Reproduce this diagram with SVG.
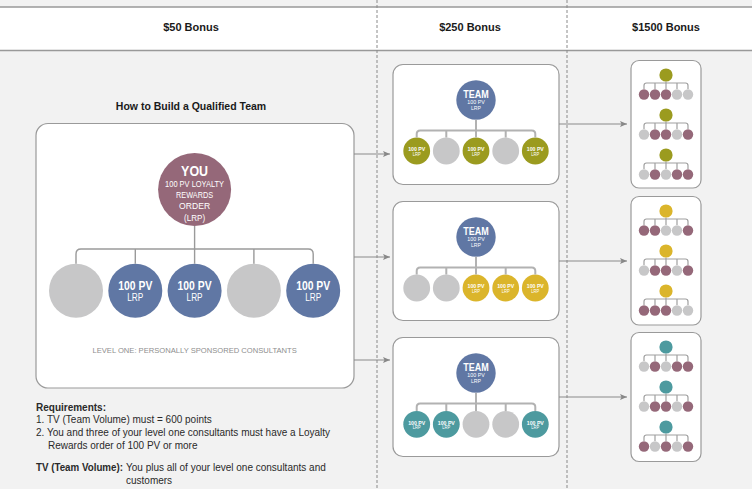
<svg xmlns="http://www.w3.org/2000/svg" width="752" height="489" viewBox="0 0 752 489">
<defs>
<marker id="arr" markerWidth="8" markerHeight="6" refX="7" refY="3" orient="auto" markerUnits="userSpaceOnUse"><path d="M0,0 L7,3 L0,6 L1.5,3 Z" fill="#888"/></marker>
<path id="mini" fill="none" stroke="#a0a0a0" stroke-width="1.2" d="M0,6.5 V14 M-22,14 V10.5 Q-22,8 -19.5,8 H19.5 Q22,8 22,10.5 V14 M-11,8 V14 M11,8 V14"/>
</defs>
<style>
.hdr{font-family:"Liberation Sans",Arial,sans-serif;font-weight:bold;font-size:11px;fill:#1a1a1a;text-anchor:middle}
.box{fill:#fff;stroke:#9a9a9a;stroke-width:1.2}
.dash{stroke:#8a8a8a;stroke-width:1;stroke-dasharray:3 2}
.conn{fill:none;stroke:#9a9a9a;stroke-width:1.4}
.conn2{fill:none;stroke:#b2b2b2;stroke-width:2}
.arrow{stroke:#8a8a8a;stroke-width:1;fill:none;marker-end:url(#arr)}
.n{font-family:"Liberation Sans",Arial,sans-serif;fill:#fff;text-anchor:middle}
.b{font-weight:bold}
.g{fill:#c7c7c8}.bl{fill:#6077a4}.m{fill:#956879}.o{fill:#9b9b1f}.y{fill:#dbb52b}.t{fill:#4d9a9f}
.title{font-family:"Liberation Sans",Arial,sans-serif;font-weight:bold;font-size:10.5px;fill:#1a1a1a;text-anchor:middle}
.req{font-family:"Liberation Sans",Arial,sans-serif;font-size:10px;fill:#2a2a2a}
.lvl{font-family:"Liberation Sans",Arial,sans-serif;font-size:7.6px;fill:#8e8e8e;text-anchor:middle}
</style>
<rect x="0" y="0" width="752" height="489" fill="#f2f2f2"/>
<g id="header">
<rect x="0" y="7" width="752" height="43" fill="#fff"/>
<line x1="0" y1="7" x2="752" y2="7" stroke="#999" stroke-width="1.5"/>
<line x1="0" y1="50.5" x2="752" y2="50.5" stroke="#999" stroke-width="1.5"/>
<text class="hdr" x="191" y="31">$50 Bonus</text>
<text class="hdr" x="470" y="31">$250 Bonus</text>
<text class="hdr" x="666" y="31">$1500 Bonus</text>
</g>
<g id="dividers">
<line class="dash" x1="377" y1="0" x2="377" y2="489"/>
<line class="dash" x1="567" y1="0" x2="567" y2="489"/>
</g>
<text class="title" x="191" y="110">How to Build a Qualified Team</text>
<g id="qualified-team">
<rect class="box" x="36" y="123.5" width="318" height="264.5" rx="12"/>
<text class="lvl" x="194.6" y="352.5">LEVEL ONE: PERSONALLY SPONSORED CONSULTANTS</text>
</g>
<g id="you">
<circle class="m" cx="194.6" cy="189.5" r="36.5"/>
<text class="n b" x="194.6" y="175.5" font-size="14" textLength="27" lengthAdjust="spacingAndGlyphs">YOU</text>
<text class="n" x="194.6" y="187" font-size="9.5" textLength="59" lengthAdjust="spacingAndGlyphs">100 PV LOYALTY</text>
<text class="n" x="194.6" y="198.3" font-size="9.5" textLength="37" lengthAdjust="spacingAndGlyphs">REWARDS</text>
<text class="n" x="194.6" y="209.3" font-size="9.5" textLength="31" lengthAdjust="spacingAndGlyphs">ORDER</text>
<text class="n" x="194.6" y="220.5" font-size="9.5" textLength="21" lengthAdjust="spacingAndGlyphs">(LRP)</text>
</g>
<g id="level-one">
<circle class="g" cx="76" cy="290.7" r="27"/>
<g id="l1-2"><circle class="bl" cx="135.3" cy="290.7" r="27"/><text class="n b" x="135.3" y="290" font-size="13" textLength="34" lengthAdjust="spacingAndGlyphs">100 PV</text><text class="n" x="135.3" y="301" font-size="10" textLength="16" lengthAdjust="spacingAndGlyphs">LRP</text></g>
<g id="l1-3"><circle class="bl" cx="194.6" cy="290.7" r="27"/><text class="n b" x="194.6" y="290" font-size="13" textLength="34" lengthAdjust="spacingAndGlyphs">100 PV</text><text class="n" x="194.6" y="301" font-size="10" textLength="16" lengthAdjust="spacingAndGlyphs">LRP</text></g>
<circle class="g" cx="253.9" cy="290.7" r="27"/>
<g id="l1-5"><circle class="bl" cx="313.2" cy="290.7" r="27"/><text class="n b" x="313.2" y="290" font-size="13" textLength="34" lengthAdjust="spacingAndGlyphs">100 PV</text><text class="n" x="313.2" y="301" font-size="10" textLength="16" lengthAdjust="spacingAndGlyphs">LRP</text></g>
</g>
<g id="requirements">
<text class="req b" x="36" y="410.5">Requirements:</text>
<text class="req" x="36" y="423">1. TV (Team Volume) must = 600 points</text>
<text class="req" x="36" y="436">2. You and three of your level one consultants must have a Loyalty</text>
<text class="req" x="48" y="449">Rewards order of 100 PV or more</text>
<text class="req b" x="36" y="471" textLength="87" lengthAdjust="spacingAndGlyphs">TV (Team Volume):</text>
<text class="req" x="126" y="471">You plus all of your level one consultants and</text>
<text class="req" x="126" y="483.5">customers</text>
</g>
<g id="team-1">
<rect class="box" x="393" y="64.5" width="166" height="120" rx="10"/>
<circle class="bl" cx="476" cy="100" r="19.7"/>
<text class="n b" x="476" y="97.5" font-size="11" textLength="25.5" lengthAdjust="spacingAndGlyphs">TEAM</text>
<text class="n" x="476" y="104.3" font-size="6" textLength="17.5" lengthAdjust="spacingAndGlyphs">100 PV</text>
<text class="n" x="476" y="110" font-size="6" textLength="10" lengthAdjust="spacingAndGlyphs">LRP</text>
<circle class="o" cx="416.7" cy="151" r="13.4"/><text class="n b" x="416.7" y="151.2" font-size="5.5" textLength="17" lengthAdjust="spacingAndGlyphs">100 PV</text><text class="n" x="416.7" y="156" font-size="5.5" textLength="8" lengthAdjust="spacingAndGlyphs">LRP</text>
<circle class="g" cx="446.3" cy="151" r="13.4"/>
<circle class="o" cx="476" cy="151" r="13.4"/><text class="n b" x="476" y="151.2" font-size="5.5" textLength="17" lengthAdjust="spacingAndGlyphs">100 PV</text><text class="n" x="476" y="156" font-size="5.5" textLength="8" lengthAdjust="spacingAndGlyphs">LRP</text>
<circle class="g" cx="505.7" cy="151" r="13.4"/>
<circle class="o" cx="535.3" cy="151" r="13.4"/><text class="n b" x="535.3" y="151.2" font-size="5.5" textLength="17" lengthAdjust="spacingAndGlyphs">100 PV</text><text class="n" x="535.3" y="156" font-size="5.5" textLength="8" lengthAdjust="spacingAndGlyphs">LRP</text>
</g>
<g id="team-2">
<rect class="box" x="393" y="201.5" width="166" height="119" rx="10"/>
<circle class="bl" cx="476" cy="237" r="19.7"/>
<text class="n b" x="476" y="234.5" font-size="11" textLength="25.5" lengthAdjust="spacingAndGlyphs">TEAM</text>
<text class="n" x="476" y="241.3" font-size="6" textLength="17.5" lengthAdjust="spacingAndGlyphs">100 PV</text>
<text class="n" x="476" y="247" font-size="6" textLength="10" lengthAdjust="spacingAndGlyphs">LRP</text>
<circle class="g" cx="416.7" cy="288" r="13.4"/>
<circle class="g" cx="446.3" cy="288" r="13.4"/>
<circle class="y" cx="476" cy="288" r="13.4"/><text class="n b" x="476" y="288.2" font-size="5.5" textLength="17" lengthAdjust="spacingAndGlyphs">100 PV</text><text class="n" x="476" y="293" font-size="5.5" textLength="8" lengthAdjust="spacingAndGlyphs">LRP</text>
<circle class="y" cx="505.7" cy="288" r="13.4"/><text class="n b" x="505.7" y="288.2" font-size="5.5" textLength="17" lengthAdjust="spacingAndGlyphs">100 PV</text><text class="n" x="505.7" y="293" font-size="5.5" textLength="8" lengthAdjust="spacingAndGlyphs">LRP</text>
<circle class="y" cx="535.3" cy="288" r="13.4"/><text class="n b" x="535.3" y="288.2" font-size="5.5" textLength="17" lengthAdjust="spacingAndGlyphs">100 PV</text><text class="n" x="535.3" y="293" font-size="5.5" textLength="8" lengthAdjust="spacingAndGlyphs">LRP</text>
</g>
<g id="team-3">
<rect class="box" x="393" y="337.5" width="166" height="119" rx="10"/>
<circle class="bl" cx="476" cy="373" r="19.7"/>
<text class="n b" x="476" y="370.5" font-size="11" textLength="25.5" lengthAdjust="spacingAndGlyphs">TEAM</text>
<text class="n" x="476" y="377.3" font-size="6" textLength="17.5" lengthAdjust="spacingAndGlyphs">100 PV</text>
<text class="n" x="476" y="383" font-size="6" textLength="10" lengthAdjust="spacingAndGlyphs">LRP</text>
<circle class="t" cx="416.7" cy="424.3" r="13.4"/><text class="n b" x="416.7" y="424.5" font-size="5.5" textLength="17" lengthAdjust="spacingAndGlyphs">100 PV</text><text class="n" x="416.7" y="429.3" font-size="5.5" textLength="8" lengthAdjust="spacingAndGlyphs">LRP</text>
<circle class="t" cx="446.3" cy="424.3" r="13.4"/><text class="n b" x="446.3" y="424.5" font-size="5.5" textLength="17" lengthAdjust="spacingAndGlyphs">100 PV</text><text class="n" x="446.3" y="429.3" font-size="5.5" textLength="8" lengthAdjust="spacingAndGlyphs">LRP</text>
<circle class="g" cx="476" cy="424.3" r="13.4"/>
<circle class="g" cx="505.7" cy="424.3" r="13.4"/>
<circle class="t" cx="535.3" cy="424.3" r="13.4"/><text class="n b" x="535.3" y="424.5" font-size="5.5" textLength="17" lengthAdjust="spacingAndGlyphs">100 PV</text><text class="n" x="535.3" y="429.3" font-size="5.5" textLength="8" lengthAdjust="spacingAndGlyphs">LRP</text>
</g>
<g id="bonus-1">
<rect class="box" x="631" y="60.5" width="70" height="127.5" rx="8"/>
<use href="#mini" x="666" y="75"/><circle class="o" cx="666" cy="75" r="6.6"/>
<circle class="m" cx="644" cy="94.5" r="5.2"/><circle class="m" cx="655" cy="94.5" r="5.2"/><circle class="m" cx="666" cy="94.5" r="5.2"/><circle class="g" cx="677" cy="94.5" r="5.2"/><circle class="g" cx="688" cy="94.5" r="5.2"/>
<use href="#mini" x="666" y="115"/><circle class="o" cx="666" cy="115" r="6.6"/>
<circle class="g" cx="644" cy="134.5" r="5.2"/><circle class="m" cx="655" cy="134.5" r="5.2"/><circle class="m" cx="666" cy="134.5" r="5.2"/><circle class="g" cx="677" cy="134.5" r="5.2"/><circle class="m" cx="688" cy="134.5" r="5.2"/>
<use href="#mini" x="666" y="155"/><circle class="o" cx="666" cy="155" r="6.6"/>
<circle class="g" cx="644" cy="174.5" r="5.2"/><circle class="m" cx="655" cy="174.5" r="5.2"/><circle class="g" cx="666" cy="174.5" r="5.2"/><circle class="m" cx="677" cy="174.5" r="5.2"/><circle class="m" cx="688" cy="174.5" r="5.2"/>
</g>
<g id="bonus-2">
<rect class="box" x="631" y="196.5" width="70" height="128.5" rx="8"/>
<use href="#mini" x="666" y="211"/><circle class="y" cx="666" cy="211" r="6.6"/>
<circle class="m" cx="644" cy="230.5" r="5.2"/><circle class="m" cx="655" cy="230.5" r="5.2"/><circle class="g" cx="666" cy="230.5" r="5.2"/><circle class="g" cx="677" cy="230.5" r="5.2"/><circle class="m" cx="688" cy="230.5" r="5.2"/>
<use href="#mini" x="666" y="251"/><circle class="y" cx="666" cy="251" r="6.6"/>
<circle class="g" cx="644" cy="270.5" r="5.2"/><circle class="m" cx="655" cy="270.5" r="5.2"/><circle class="m" cx="666" cy="270.5" r="5.2"/><circle class="g" cx="677" cy="270.5" r="5.2"/><circle class="m" cx="688" cy="270.5" r="5.2"/>
<use href="#mini" x="666" y="291"/><circle class="y" cx="666" cy="291" r="6.6"/>
<circle class="m" cx="644" cy="310.5" r="5.2"/><circle class="m" cx="655" cy="310.5" r="5.2"/><circle class="m" cx="666" cy="310.5" r="5.2"/><circle class="g" cx="677" cy="310.5" r="5.2"/><circle class="g" cx="688" cy="310.5" r="5.2"/>
</g>
<g id="bonus-3">
<rect class="box" x="631" y="332.5" width="70" height="129" rx="8"/>
<use href="#mini" x="666" y="347"/><circle class="t" cx="666" cy="347" r="6.6"/>
<circle class="g" cx="644" cy="366.5" r="5.2"/><circle class="m" cx="655" cy="366.5" r="5.2"/><circle class="g" cx="666" cy="366.5" r="5.2"/><circle class="m" cx="677" cy="366.5" r="5.2"/><circle class="m" cx="688" cy="366.5" r="5.2"/>
<use href="#mini" x="666" y="387"/><circle class="t" cx="666" cy="387" r="6.6"/>
<circle class="g" cx="644" cy="406.5" r="5.2"/><circle class="m" cx="655" cy="406.5" r="5.2"/><circle class="m" cx="666" cy="406.5" r="5.2"/><circle class="g" cx="677" cy="406.5" r="5.2"/><circle class="m" cx="688" cy="406.5" r="5.2"/>
<use href="#mini" x="666" y="427"/><circle class="t" cx="666" cy="427" r="6.6"/>
<circle class="m" cx="644" cy="446.5" r="5.2"/><circle class="g" cx="655" cy="446.5" r="5.2"/><circle class="m" cx="666" cy="446.5" r="5.2"/><circle class="g" cx="677" cy="446.5" r="5.2"/><circle class="m" cx="688" cy="446.5" r="5.2"/>
</g>
<g id="connectors">
<path class="conn" d="M194.6,226 V263.7 M76,263.7 V254 Q76,249 81,249 H308.2 Q313.2,249 313.2,254 V263.7 M135.3,249 V263.7 M253.9,249 V263.7"/>
<line class="arrow" x1="354" y1="154" x2="390" y2="154"/>
<line class="arrow" x1="354" y1="257" x2="390" y2="257"/>
<line class="arrow" x1="354" y1="360" x2="390" y2="360"/>
<line class="arrow" x1="559" y1="124" x2="627" y2="124"/>
<line class="arrow" x1="559" y1="261" x2="627" y2="261"/>
<line class="arrow" x1="559" y1="397" x2="627" y2="397"/>
<path class="conn2" d="M476,119.7 V137.6 M416.7,137.6 V134 Q416.7,130.5 420.2,130.5 H531.8 Q535.3,130.5 535.3,134 V137.6 M446.3,130.5 V137.6 M505.7,130.5 V137.6"/>
<path class="conn2" d="M476,256.7 V274.6 M416.7,274.6 V271 Q416.7,267.5 420.2,267.5 H531.8 Q535.3,267.5 535.3,271 V274.6 M446.3,267.5 V274.6 M505.7,267.5 V274.6"/>
<path class="conn2" d="M476,392.7 V410.9 M416.7,410.9 V407 Q416.7,403.5 420.2,403.5 H531.8 Q535.3,403.5 535.3,407 V410.9 M446.3,403.5 V410.9 M505.7,403.5 V410.9"/>
</g>
</svg>
